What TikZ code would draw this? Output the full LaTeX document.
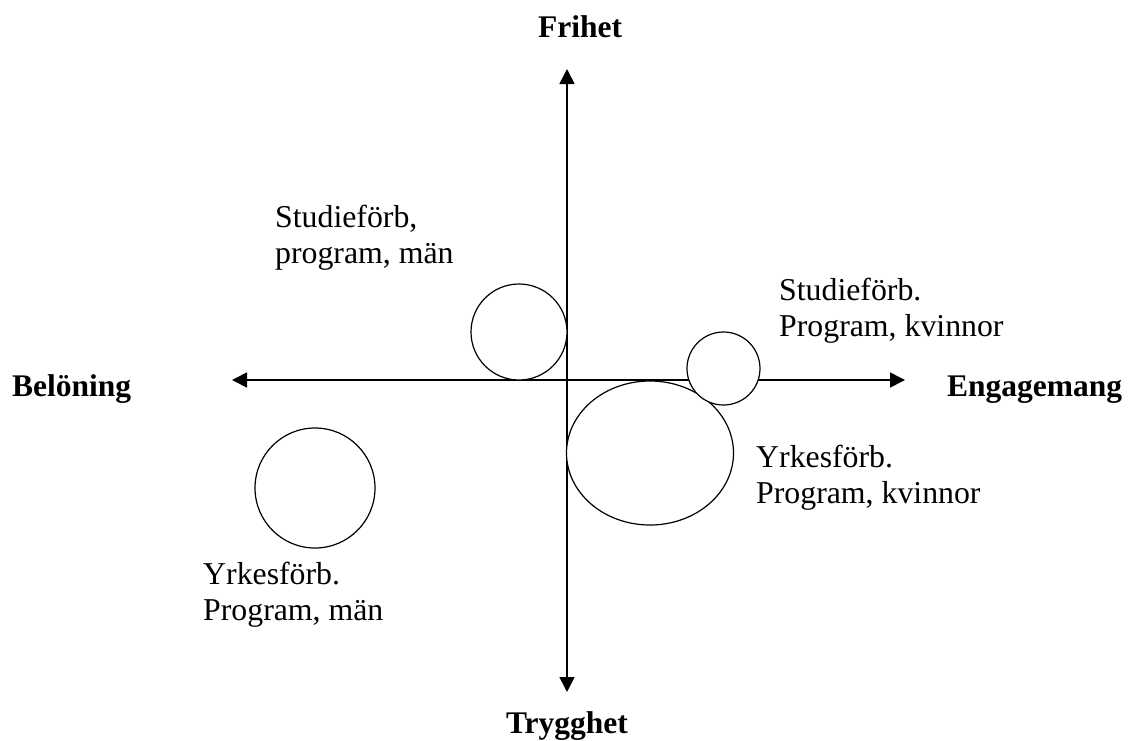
\documentclass[tikz,border=0pt]{standalone}
\usepackage{fontspec}
\setmainfont{Liberation Serif}
\usetikzlibrary{arrows.meta,shapes.geometric}
\definecolor{ChartInk}{HTML}{000000}

\begin{document}
\begin{tikzpicture}[x=1pt,y=-1pt,
    axis/.style={ChartInk,line width=1.6pt,
      {Triangle[length=15pt,width=15pt]}-{Triangle[length=15pt,width=15pt]}},
    bubble/.style={draw=ChartInk,fill=white,line width=1.2pt,inner sep=0pt},
    pole/.style={text=ChartInk,inner sep=0pt,
      font=\fontsize{31.5}{36}\selectfont\bfseries},
    group/.style={text=ChartInk,inner sep=0pt,align=left,anchor=base west,
      font=\fontsize{31.8}{36}\selectfont}]
  \useasboundingbox (0,0) rectangle (1130,740);

  % axes
  \coordinate (frihetEnd) at (567,69);
  \coordinate (trygghetEnd) at (567,692);
  \coordinate (beloningEnd) at (232,380);
  \coordinate (engagemangEnd) at (905,380);
  \draw[axis] (trygghetEnd) -- (frihetEnd);
  \draw[axis] (beloningEnd) -- (engagemangEnd);

  \node[pole,anchor=base] (frihet) at (580,37) {Frihet};
  \node[pole,anchor=base] (trygghet) at (567,733) {Trygghet};
  \node[pole,anchor=base west] (beloning) at (12,396) {Belöning};
  \node[pole,anchor=base west] (engagemang) at (947,396) {Engagemang};

  % groups (anchored at the baseline of the second line)
  \node[bubble,ellipse,minimum width=167,minimum height=144] (yrkK) at (650,453) {};
  \node[bubble,circle,minimum size=96] (studM) at (519,332) {};
  \node[bubble,circle,minimum size=120] (yrkM) at (315,488) {};
  \node[bubble,circle,minimum size=73] (studK) at (723.5,368.5) {};

  \node[group] (studMtext) at (275,263) {Studieförb,\\program, män};
  \node[group] (studKtext) at (779,336) {Studieförb.\\Program, kvinnor};
  \node[group] (yrkKtext) at (756,503) {Yrkesförb.\\Program, kvinnor};
  \node[group] (yrkMtext) at (203,620) {Yrkesförb.\\Program, män};
\end{tikzpicture}
\end{document}
